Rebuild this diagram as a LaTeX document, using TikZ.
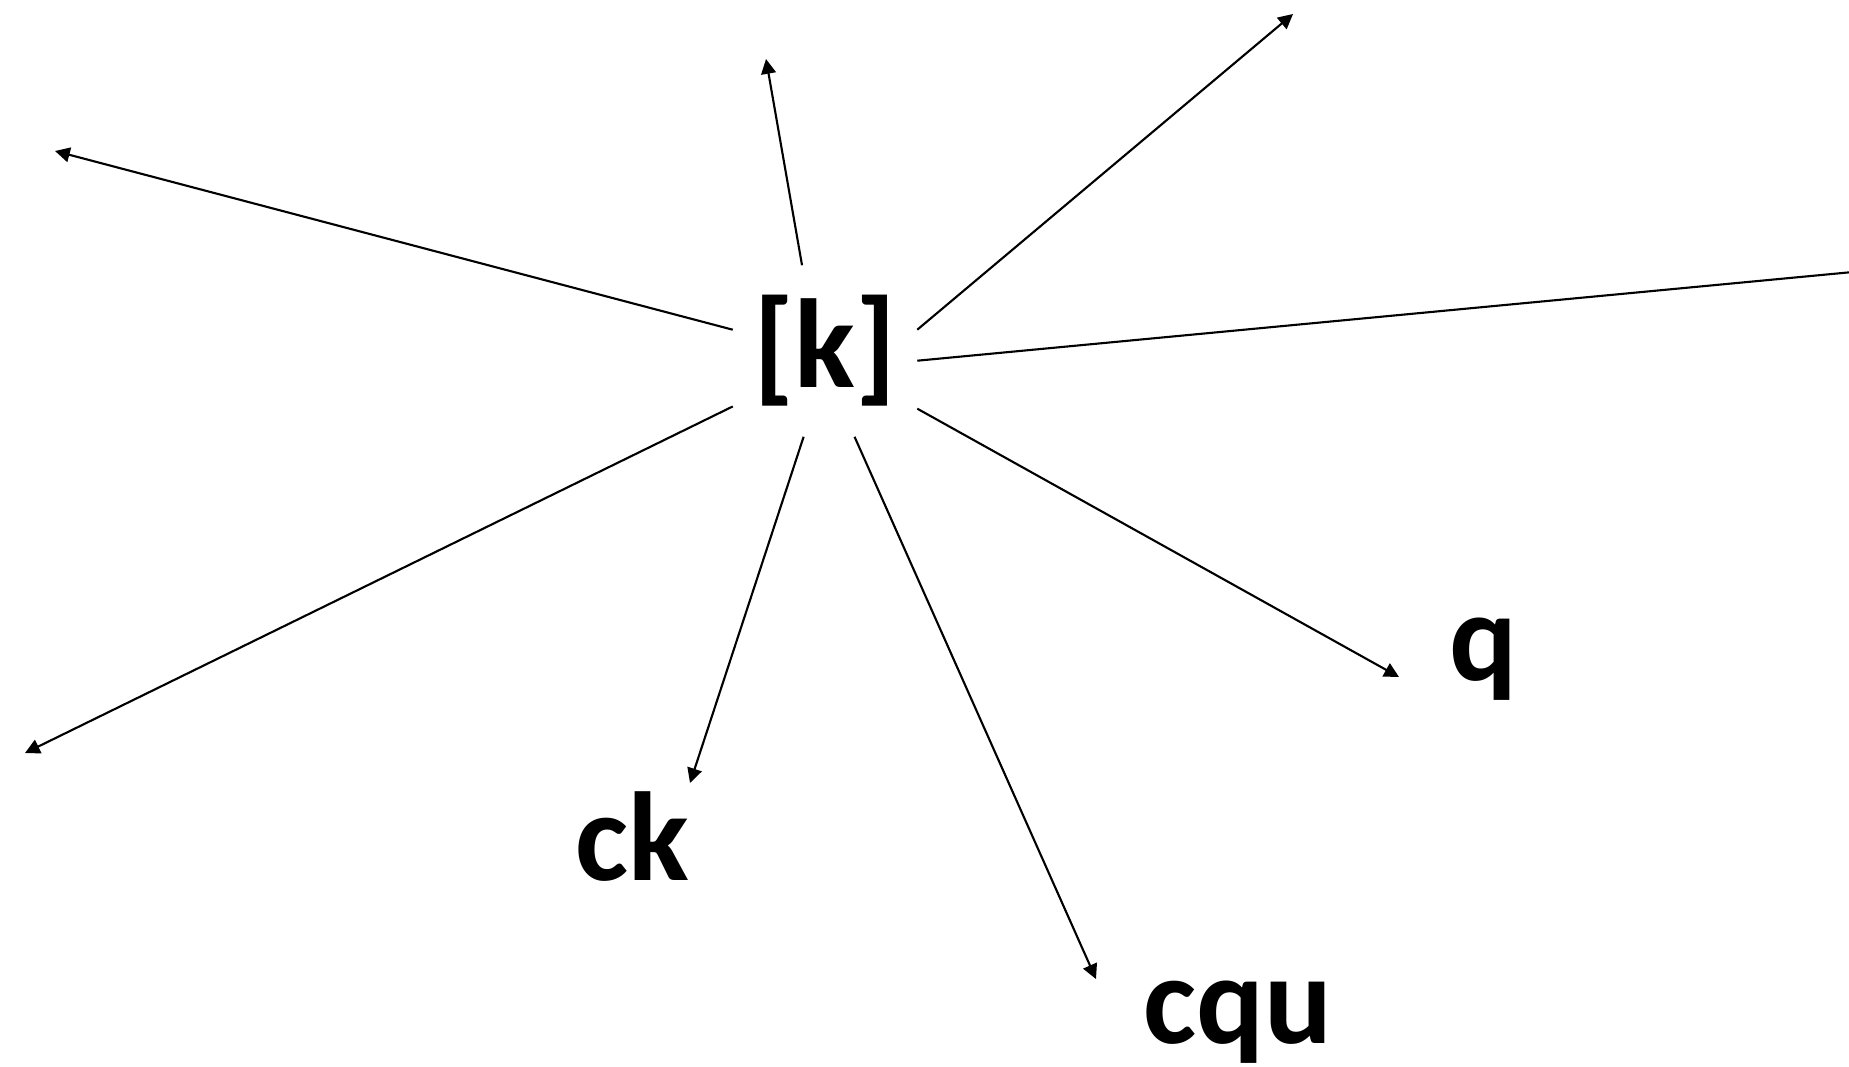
\documentclass[tikz,border=0pt]{standalone}
\usepackage{fontspec}
\setmainfont{Carlito}
\usetikzlibrary{arrows.meta}
\tikzset{
  lbl/.style={font=\fontsize{36}{40}\selectfont\bfseries,inner xsep=0pt,inner ysep=3pt,anchor=base},
  arr/.style={-{Triangle[length=4.2pt,width=4.2pt]},line width=0.6pt},
}
\begin{document}
\begin{tikzpicture}[x=0.01cm,y=-0.01cm]
\useasboundingbox (0,0) rectangle (1849,1066);
\node[lbl,anchor=center,minimum width=1.83cm,minimum height=1.70cm](k) at (825,351){[k]};
\node[lbl](ck) at (632,880){ck};
\node[lbl](cqu) at (1238,1043){cqu};
\node[lbl](q) at (1483,680){q};
\foreach \n/\ex/\ey in {ul/55/151,up/766/59,ur/1293/14,rt/1895/268,ll/25/753,ckend/690/783,cquend/1096/979,qend/1399/677}{\coordinate(\n) at (\ex,\ey);}
\foreach \ang/\n in {167/ul,105/up,13/ur,354/rt,211/ll,256/ckend,289/cquend,328/qend}{\draw[arr](k.\ang)--(\n);}
\end{tikzpicture}
\end{document}
